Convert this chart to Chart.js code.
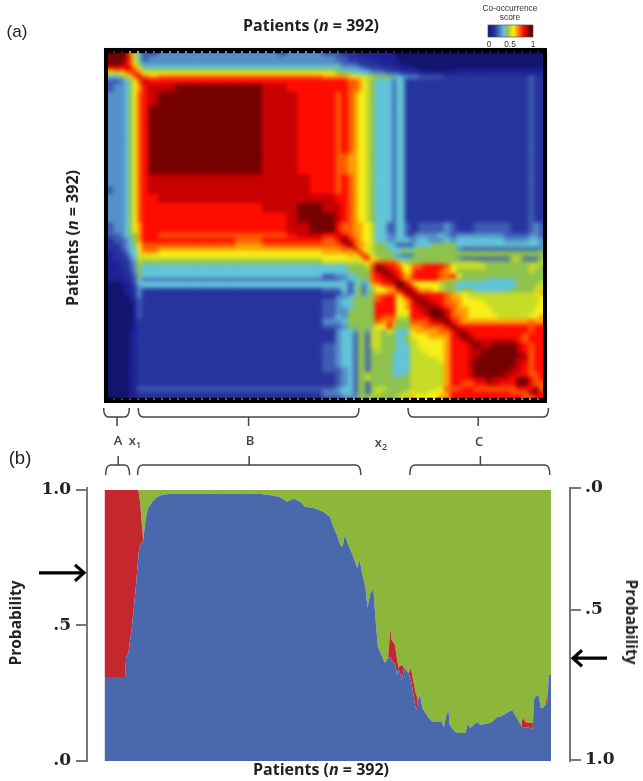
<!DOCTYPE html>
<html>
<head>
<meta charset="utf-8">
<title>Co-occurrence and probability</title>
<script src="https://cdn.jsdelivr.net/npm/chart.js@4"></script>
<style>
    html, body { margin: 0; padding: 0; background: #fff; }
    #page { position: relative; width: 643px; height: 781px; overflow: hidden; filter: blur(0.45px); }
    canvas { position: absolute; left: 0; }
    .lbl { position: absolute; transform: translate(-50%, -50%); white-space: nowrap; color: #222; font-family: "Open Sans", sans-serif; }
    .axis { font-weight: 700; font-size: 16px; }
    .tag { font-family: "Liberation Sans", sans-serif; font-size: 17px; }
    .grp { font-weight: 600; font-size: 13px; color: #444; }
    .grp sub { font-size: 9px; }
    .bar { font-family: "Liberation Sans", sans-serif; font-size: 8.4px; color: #333; }
</style>
</head>
<body>
<div id="page">
    <canvas id="heat" width="643" height="440" style="top:0"></canvas>
    <canvas id="mix" width="643" height="341" style="top:440px"></canvas>

    <div class="lbl tag" style="left:17px;top:32px">(a)</div>
    <div class="lbl tag" style="left:20px;top:458px;font-size:18.5px">(b)</div>
    <div class="lbl axis" style="left:311px;top:25px">Patients (<i>n</i> = 392)</div>
    <div class="lbl axis" style="left:72px;top:238px;transform:translate(-50%,-50%) rotate(-90deg)">Patients (<i>n</i> = 392)</div>
    <div class="lbl axis" style="left:321px;top:769px">Patients (<i>n</i> = 392)</div>
    <div class="lbl axis" style="left:15px;top:623px;font-size:15.5px;transform:translate(-50%,-50%) rotate(-90deg)">Probability</div>
    <div class="lbl axis" style="left:632px;top:622px;font-size:15.5px;transform:translate(-50%,-50%) rotate(90deg)">Probability</div>

    <div class="lbl grp" style="left:118px;top:440px">A</div>
    <div class="lbl grp" style="left:135px;top:441px">x<sub>1</sub></div>
    <div class="lbl grp" style="left:250px;top:440px">B</div>
    <div class="lbl grp" style="left:381px;top:443px">x<sub>2</sub></div>
    <div class="lbl grp" style="left:479px;top:441px">C</div>

    <div class="lbl bar" style="left:510px;top:8px">Co-occurrence</div>
    <div class="lbl bar" style="left:510px;top:17px">score</div>
    <div class="lbl bar" style="left:489px;top:44px">0</div>
    <div class="lbl bar" style="left:510px;top:44px">0.5</div>
    <div class="lbl bar" style="left:533px;top:44px">1</div>
</div>

<script>
// Patient order is the same on both axes of the matrix, bins are narrow where the picture is busy
const patientEdges = [
    0, 6, 12, 16, 20, 23, 27, 31, 37, 46,
    61, 79, 97, 115, 128, 139, 153, 161, 171, 182,
    193, 205, 210, 216, 221, 225, 229, 232, 236, 240,
    246, 251, 256, 259, 264, 267, 272, 275, 279, 283,
    288, 292, 297, 302, 308, 313, 318, 324, 329, 335,
    340, 345, 351, 356, 362, 367, 372, 378, 383, 387, 392
];

// One hex digit per bin, 0 = score 0, e = score 1. The matrix is symmetric,
// so each row starts at the diagonal and only the upper triangle is kept.
// Spaces only group the digits for reading.
const scoreRows = [
    'dddc975 33 444444 43444 33222 1111 1111000 000000000 000000000000000',
    'ddca75 34 444444 44444 43322 2221 1111000 000000000 000000000000000',
    'dba86 44 444444 44444 44333 2222 2111100 000000000 000000000000000',
    'cb97 55 555555 55555 55444 3322 2221111 100000000 000000000000000',
    'ba8 66 666666 66666 66555 5443 3222111 111000000 111111111111111',
    'ba 88 888888 88888 86665 5554 4433322 221111111 111111111111111',
    'c a9 aaaaaa aaaaa 99988 8777 6665544 443333322 222222222222322',
    'cb bbbbbb bbbbb bbbaa 9876 5553552 222222222 222222222222322',
    'c cddddd ccbbb bbbaa 9876 5553552 222222222 222222222222322',
    'dddddd cccbb baba9 8876 5553552 222222222 222222222222322',
    'ddddd cccbb baba9 8876 5553552 222222222 222222222222322',
    'dddd cccbb baba9 8876 5553552 222222222 222222222222322',
    'ddd cccbb baba9 8876 5553552 222222222 222222222222322',
    'dd cccbb baa99 8876 5553552 222222222 222222222222322',
    'd cccbb baa99 8876 5553552 222222222 222222222222322',
    'ccccb baba9 8876 5553552 222222222 222222222222322',
    'cccb baba9 8876 5553552 222222222 222222222222322',
    'ccc cbba9 8876 5553552 222222222 222222222222322',
    'dd ccba9 8876 5553552 222222222 222222222222322',
    'd dcba9 8876 5553552 222222222 222222222222322',
    'dbaa9 9887 5533553 223333343 222333333222343',
    'cba9 9887 5543553 244444543 444444443333443',
    'dba 9887 5544555 445544454 555555554444554',
    'da 9987 6655333 355556666 555555555555554',
    'c 9877 6655565 566666666 433333333333334',
    'b987 6666566 666666666 666666666666666',
    'ca8 6665433 356666666 666666666666666',
    'b8 7666555 666666666 433333333773336',
    '9 aaaa976 666666666 777766666666667',
    'dcbba88 9aabbbba8 777776666666776',
    'dcbb98 9bbbbba98 666666666666766',
    'dcba9 abbbbbaab 866666666666666',
    'dca9 abbbbba97 666665555566666',
    'ddb 988888766 555555555566667',
    'dc b98888766 555555555566677',
    'd cb9998766 566555555666677',
    'dcbbbbba9 887777777777789',
    'd ccbbba9 987777777777778',
    'd ccbba9 988877777777778',
    'd ccbaa 988887777777778',
    'd dcba 998888777777788',
    'e dca 998888777777788',
    'd ca a98888877777889',
    'd b a99999999999a99',
    'd bbbbbbbbbbbbabb',
    'dcbbbbbbbbbbabb',
    'd cbbbbbbbbabbb',
    'd cccccccbabbb',
    'd ccddddcbabb',
    'd dddddcbabb',
    'd dddddcabb',
    'd dddccabb',
    'd ddcbabb',
    'd ccbabb',
    'cbbaab',
    'ddbab',
    'dbaa',
    'bda',
    'db',
    'b'
];

const scoreColors = [
    '#12146e', '#1e2296', '#28349e', '#3f5cb4', '#5590c8',
    '#62c4d8', '#8ec24e', '#c6dc28', '#f8f018', '#ffa000',
    '#ff5a00', '#ff0c00', '#c80000', '#760000', '#4e0000'
];

// Panel (b): admixture probability per patient, the three series add up to 1
const patients = [
    0, 18, 19, 21, 24, 27, 29, 30, 31, 32,
    33, 34, 36, 38, 42, 46, 51, 57, 84, 110,
    130, 137, 146, 154, 160, 166, 172, 176, 183, 192,
    198, 201, 204, 207, 209, 211, 214, 217, 222, 224,
    226, 229, 231, 233, 236, 238, 240, 245, 246, 249,
    251, 252, 255, 257, 258, 261, 263, 267, 269, 271,
    273, 274, 275, 277, 279, 284, 288, 293, 296, 298,
    300, 302, 303, 308, 312, 317, 319, 321, 324, 327,
    330, 334, 339, 345, 349, 353, 358, 362, 366, 367,
    370, 374, 376, 377, 378, 381, 383, 385, 387, 389,
    390, 392
];
const blueValues = [
    .31, .31, .384, .402, .494, .62, .72, .768, .79, .8,
    .805, .815, .889, .93, .956, .974, .982, .985, .985, .987,
    .985, .985, .98, .974, .956, .967, .956, .937, .934, .919,
    .9, .863, .834, .797, .79, .834, .797, .768, .712, .742,
    .697, .642, .565, .613, .638, .52, .421, .373, .362, .38,
    .384, .373, .358, .317, .347, .299, .343, .325, .299, .251,
    .199, .188, .225, .244, .196, .162, .144, .144, .144, .125,
    .166, .188, .133, .107, .103, .103, .14, .122, .133, .144,
    .133, .137, .14, .162, .166, .177, .188, .159, .129, .122,
    .125, .122, .118, .225, .236, .244, .196, .196, .207, .214,
    .317, .317
];
const redValues = [
    .69, .69, .616, .598, .506, .38, .28, .222, .173, .115,
    .055, 0, 0, 0, 0, 0, 0, 0, 0, 0,
    0, 0, 0, 0, 0, 0, 0, 0, 0, 0,
    0, 0, 0, 0, 0, 0, 0, 0, 0, 0,
    0, 0, 0, 0, 0, 0, 0, 0, 0, 0,
    .107, .074, .07, .055, 0, .055, 0, 0, .044, .048,
    .055, .055, 0, 0, 0, 0, 0, 0, 0, 0,
    0, 0, 0, 0, 0, 0, 0, 0, 0, 0,
    0, 0, 0, 0, 0, 0, 0, 0, 0, .037,
    .018, .018, .022, 0, 0, 0, 0, 0, 0, .03,
    0, 0
];
const greenValues = [
    0, 0, 0, 0, 0, 0, 0, .01, .037, .085,
    .14, .185, .111, .07, .044, .026, .018, .015, .015, .013,
    .015, .015, .02, .026, .044, .033, .044, .063, .066, .081,
    .1, .137, .166, .203, .21, .166, .203, .232, .288, .258,
    .303, .358, .435, .387, .362, .48, .579, .627, .638, .62,
    .509, .553, .572, .628, .653, .646, .657, .675, .657, .701,
    .746, .757, .775, .756, .804, .838, .856, .856, .856, .875,
    .834, .812, .867, .893, .897, .897, .86, .878, .867, .856,
    .867, .863, .86, .838, .834, .823, .812, .841, .871, .841,
    .857, .86, .86, .775, .764, .756, .804, .804, .793, .756,
    .683, .683
];

const leftTickValues = [0, 0.5, 1];
const leftTickLabels = ['.0', '.5', '1.0'];
const rightTickValues = [0, 0.447, 1];
const rightTickLabels = ['.0', '.5', '1.0'];

// Brackets as [first patient, last patient, stem patient]
const heatBrackets = [[-3, 20, 9], [28, 226, 127], [270, 396, 333]];
const mixBrackets = [[1, 22, 12], [29, 225, 127], [268, 391, 330]];

const leftArrowValue = 0.694;
const rightArrowValue = 0.626;

// Expand the triangle into drawable cells
const heatCells = [];
scoreRows.forEach((row, k) => {
    row.replace(/ /g, '').split('').forEach((ch, n) => {
        const j = k + n;
        const level = parseInt(ch, 16);
        heatCells.push({ x: patientEdges[j], x2: patientEdges[j + 1], y: patientEdges[k], y2: patientEdges[k + 1], v: level });
        if (j !== k) {
            heatCells.push({ x: patientEdges[k], x2: patientEdges[k + 1], y: patientEdges[j], y2: patientEdges[j + 1], v: level });
        }
    });
});

function drawBracket(ctx, b, scale, yEnd, yBar, yStem) {
    const x0 = scale.getPixelForValue(b[0]);
    const x1 = scale.getPixelForValue(b[1]);
    const xc = scale.getPixelForValue(b[2]);
    ctx.beginPath();
    ctx.moveTo(x0, yEnd);
    ctx.quadraticCurveTo(x0, yBar, x0 + 5, yBar);
    ctx.lineTo(x1 - 5, yBar);
    ctx.quadraticCurveTo(x1, yBar, x1, yEnd);
    ctx.moveTo(xc, yBar);
    ctx.lineTo(xc, yStem);
    ctx.stroke();
}

const heatPlugin = {
    id: 'heatCells',
    beforeDatasetsDraw(chart) {
        const { ctx, chartArea: area, scales: { x, y } } = chart;
        const off = document.createElement('canvas');
        off.width = chart.width;
        off.height = chart.height;
        const o = off.getContext('2d');
        chart.data.datasets[0].data.forEach(c => {
            const left = x.getPixelForValue(c.x);
            const top = y.getPixelForValue(c.y);
            o.fillStyle = scoreColors[c.v];
            o.fillRect(left, top, x.getPixelForValue(c.x2) - left + 0.5, y.getPixelForValue(c.y2) - top + 0.5);
        });
        ctx.save();
        ctx.drawImage(off, 0, 0);
        ctx.filter = 'blur(2px)';
        ctx.drawImage(off, 0, 0);
        ctx.restore();

        // black frame with the dashed rulers top and bottom
        ctx.save();
        ctx.strokeStyle = '#000';
        ctx.lineWidth = 4;
        ctx.beginPath();
        ctx.moveTo(area.left - 1, area.top - 3);
        ctx.lineTo(area.left - 1, area.bottom + 4);
        ctx.moveTo(area.right + 1, area.top - 3);
        ctx.lineTo(area.right + 1, area.bottom + 4);
        ctx.stroke();
        ctx.lineWidth = 3;
        ctx.beginPath();
        ctx.moveTo(area.left - 3, area.top - 1.5);
        ctx.lineTo(area.right + 3, area.top - 1.5);
        ctx.moveTo(area.left - 3, area.bottom + 2.5);
        ctx.lineTo(area.right + 3, area.bottom + 2.5);
        ctx.stroke();
        ctx.lineWidth = 2.5;
        ctx.setLineDash([6, 2]);
        ctx.beginPath();
        ctx.moveTo(area.left, area.top + 1);
        ctx.lineTo(area.right, area.top + 1);
        ctx.moveTo(area.left, area.bottom);
        ctx.lineTo(area.right, area.bottom);
        ctx.stroke();
        ctx.restore();
    },
    afterDraw(chart) {
        const { ctx, scales: { x } } = chart;
        // colour key
        const grad = ctx.createLinearGradient(488, 0, 533, 0);
        scoreColors.forEach((c, i) => grad.addColorStop(i / (scoreColors.length - 1), c));
        ctx.fillStyle = grad;
        ctx.fillRect(488, 25, 45, 12);
        ctx.strokeStyle = '#555';
        ctx.lineWidth = 0.7;
        ctx.strokeRect(488, 25, 45, 12);

        ctx.strokeStyle = '#444';
        ctx.lineWidth = 1.5;
        heatBrackets.forEach(b => drawBracket(ctx, b, x, 408, 417, 426));
    }
};

const mixPlugin = {
    id: 'mixMarks',
    afterDraw(chart) {
        const { ctx, chartArea: area, scales: { x, y, y2 } } = chart;
        ctx.strokeStyle = '#444';
        ctx.lineWidth = 1.5;
        mixBrackets.forEach(b => drawBracket(ctx, b, x, 35, 25, 16));

        // arrows that mark the threshold on each probability axis
        ctx.strokeStyle = '#000';
        ctx.lineWidth = 3.2;
        const yl = y.getPixelForValue(leftArrowValue);
        ctx.beginPath();
        ctx.moveTo(area.left - 48, yl);
        ctx.lineTo(area.left - 3, yl);
        ctx.moveTo(area.left - 12, yl - 8);
        ctx.lineTo(area.left - 3, yl);
        ctx.lineTo(area.left - 12, yl + 8);
        ctx.stroke();
        const yr = y2.getPixelForValue(rightArrowValue);
        ctx.beginPath();
        ctx.moveTo(area.right + 37, yr);
        ctx.lineTo(area.right + 3, yr);
        ctx.moveTo(area.right + 12, yr - 8);
        ctx.lineTo(area.right + 3, yr);
        ctx.lineTo(area.right + 12, yr + 8);
        ctx.stroke();
    }
};

new Chart(document.getElementById('heat').getContext('2d'), {
    type: 'scatter',
    data: { datasets: [{ label: 'Co-occurrence score', data: heatCells, pointRadius: 0 }] },
    options: {
        responsive: false,
        animation: false,
        layout: { padding: { left: 107, right: 99, top: 51, bottom: 41 } },
        plugins: { legend: { display: false }, tooltip: { enabled: false } },
        scales: {
            x: { type: 'linear', display: false, min: 0, max: 392 },
            y: { type: 'linear', display: false, min: 0, max: 392, reverse: true }
        }
    },
    plugins: [heatPlugin]
});

const axisFont = { family: '"DejaVu Serif", serif', weight: 'bold', size: 17 };
const toPoints = values => patients.map((p, i) => ({ x: p, y: values[i] }));

new Chart(document.getElementById('mix').getContext('2d'), {
    type: 'line',
    data: {
        datasets: [
            { label: 'Blue', data: toPoints(blueValues), backgroundColor: '#4a69ad', fill: 'origin', borderWidth: 0, pointRadius: 0 },
            { label: 'Red', data: toPoints(redValues), backgroundColor: '#c4282e', fill: '-1', borderWidth: 0, pointRadius: 0 },
            { label: 'Green', data: toPoints(greenValues), backgroundColor: '#8db73a', fill: '-1', borderWidth: 0, pointRadius: 0 }
        ]
    },
    options: {
        responsive: false,
        animation: false,
        layout: { padding: { left: 0, right: 0, top: 48, bottom: 20 } },
        plugins: { legend: { display: false }, tooltip: { enabled: false } },
        scales: {
            x: { type: 'linear', display: false, min: -15.4, max: 408.7 },
            y: {
                stacked: true,
                min: 0,
                max: 1.007,
                afterFit(scale) { scale.width = 87; },
                afterBuildTicks(scale) { scale.ticks = leftTickValues.map(v => ({ value: v })); },
                border: { color: '#777', width: 2 },
                grid: { drawOnChartArea: false, color: '#777', lineWidth: 2, tickLength: 11 },
                ticks: { autoSkip: false, color: '#222', font: axisFont, padding: 5, callback: (v, i) => leftTickLabels[i] }
            },
            y2: {
                axis: 'y',
                position: 'right',
                reverse: true,
                min: 0,
                max: 1.004,
                afterFit(scale) { scale.width = 73; },
                afterBuildTicks(scale) { scale.ticks = rightTickValues.map(v => ({ value: v })); },
                border: { color: '#777', width: 2 },
                grid: { drawOnChartArea: false, color: '#777', lineWidth: 2, tickLength: 11 },
                ticks: { autoSkip: false, color: '#222', font: axisFont, padding: 4, callback: (v, i) => rightTickLabels[i] }
            }
        }
    },
    plugins: [mixPlugin]
});
</script>
</body>
</html>
